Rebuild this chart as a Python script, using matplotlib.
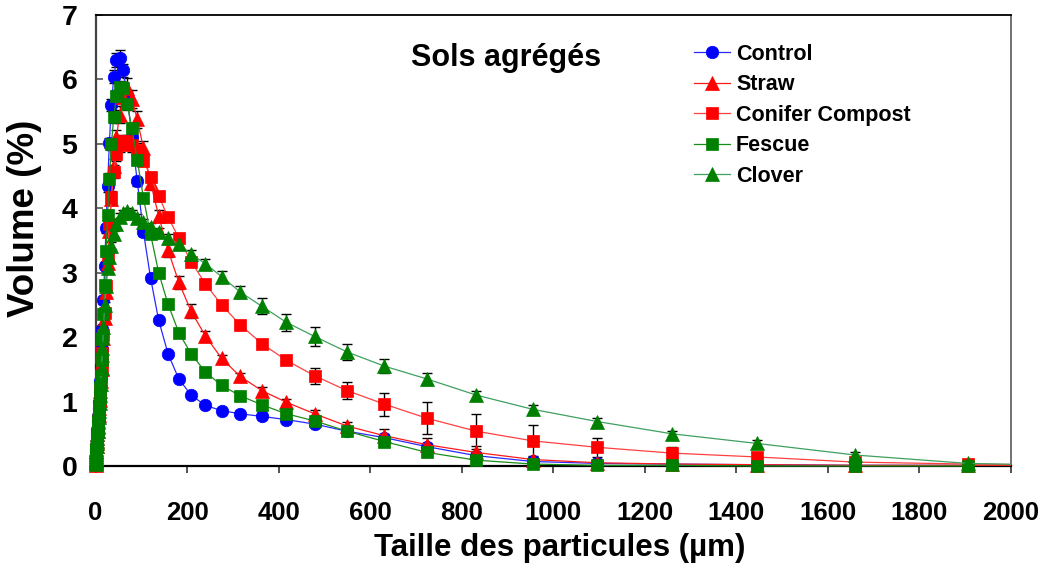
"""
Particle size distribution of aggregated soils (Sols agrégés) by treatment
"""

import matplotlib
matplotlib.use('Agg')
import matplotlib.pyplot as plt
import numpy as np


# Laser diffraction size classes (µm)
sizes = [0.479, 0.550, 0.631, 0.724, 0.832, 0.955, 1.096, 1.259, 1.445, 1.660,
         1.905, 2.188, 2.512, 2.884, 3.311, 3.802, 4.365, 5.012, 5.754, 6.607,
         7.586, 8.710, 10.00, 11.48, 13.18, 15.14, 17.38, 19.95, 22.91, 26.30,
         30.20, 34.67, 39.81, 45.71, 52.48, 60.26, 69.18, 79.43, 91.20, 104.7,
         120.2, 138.0, 158.5, 182.0, 208.9, 239.9, 275.4, 316.2, 363.1, 416.9,
         478.6, 549.5, 631.0, 724.4, 831.8, 955.0, 1096, 1259, 1445, 1660,
         1905, 2188]

control = [0.03, 0.05, 0.08, 0.10, 0.13, 0.16, 0.19, 0.22, 0.25, 0.28,
           0.32, 0.36, 0.40, 0.45, 0.50, 0.56, 0.62, 0.70, 0.78, 0.88,
           1.00, 1.15, 1.32, 1.55, 1.81, 2.12, 2.57, 3.11, 3.69, 4.34,
           5.01, 5.60, 6.04, 6.30, 6.33, 6.14, 5.75, 5.10, 4.42, 3.63,
           2.92, 2.26, 1.74, 1.35, 1.10, 0.94, 0.86, 0.81, 0.77, 0.72,
           0.65, 0.54, 0.44, 0.30, 0.16, 0.07, 0.04, 0.03, 0.02, 0.01,
           0.01, 0.00]
control_err = [0.01, 0.01, 0.01, 0.01, 0.01, 0.01, 0.01, 0.01, 0.01, 0.01,
               0.01, 0.01, 0.02, 0.02, 0.02, 0.02, 0.02, 0.02, 0.03, 0.03,
               0.03, 0.03, 0.04, 0.04, 0.05, 0.05, 0.06, 0.06, 0.07, 0.08,
               0.08, 0.09, 0.10, 0.11, 0.12, 0.10, 0.09, 0.08, 0.07, 0.06,
               0.05, 0.04, 0.03, 0.03, 0.03, 0.03, 0.03, 0.03, 0.03, 0.03,
               0.04, 0.05, 0.05, 0.05, 0.05, 0.03, 0.02, 0.01, 0.01, 0.01,
               0.01, 0.00]

straw = [0.02, 0.04, 0.06, 0.08, 0.10, 0.13, 0.15, 0.18, 0.21, 0.24,
         0.27, 0.31, 0.35, 0.39, 0.44, 0.49, 0.55, 0.62, 0.70, 0.79,
         0.90, 1.02, 1.16, 1.32, 1.50, 1.72, 1.98, 2.30, 2.70, 3.15,
         3.65, 4.15, 4.65, 5.10, 5.45, 5.72, 5.87, 5.70, 5.38, 4.93,
         4.40, 3.88, 3.35, 2.85, 2.40, 2.02, 1.67, 1.39, 1.17, 0.99,
         0.81, 0.62, 0.47, 0.33, 0.21, 0.10, 0.05, 0.03, 0.02, 0.01,
         0.01, 0.00]
straw_err = [0.01, 0.01, 0.01, 0.01, 0.01, 0.01, 0.01, 0.01, 0.01, 0.01,
             0.01, 0.01, 0.02, 0.02, 0.02, 0.02, 0.02, 0.02, 0.03, 0.03,
             0.03, 0.03, 0.04, 0.04, 0.05, 0.05, 0.06, 0.06, 0.07, 0.08,
             0.09, 0.10, 0.11, 0.12, 0.13, 0.14, 0.15, 0.14, 0.13, 0.12,
             0.11, 0.10, 0.10, 0.10, 0.11, 0.08, 0.06, 0.05, 0.05, 0.05,
             0.06, 0.07, 0.10, 0.10, 0.10, 0.06, 0.04, 0.02, 0.01, 0.01,
             0.01, 0.00]

compost = [0.02, 0.04, 0.06, 0.08, 0.10, 0.12, 0.14, 0.17, 0.20, 0.23,
           0.26, 0.30, 0.34, 0.38, 0.43, 0.48, 0.54, 0.61, 0.69, 0.78,
           0.89, 1.01, 1.15, 1.32, 1.52, 1.76, 2.04, 2.38, 2.80, 3.28,
           3.75, 4.18, 4.57, 4.84, 4.98, 5.04, 5.04, 4.98, 4.91, 4.74,
           4.49, 4.19, 3.86, 3.54, 3.17, 2.83, 2.50, 2.19, 1.90, 1.64,
           1.40, 1.17, 0.96, 0.74, 0.54, 0.39, 0.29, 0.20, 0.14, 0.06,
           0.03, 0.01]
compost_err = [0.01, 0.01, 0.01, 0.01, 0.01, 0.01, 0.01, 0.01, 0.01, 0.01,
               0.01, 0.01, 0.02, 0.02, 0.02, 0.02, 0.02, 0.02, 0.03, 0.03,
               0.03, 0.03, 0.04, 0.04, 0.05, 0.05, 0.06, 0.06, 0.07, 0.08,
               0.08, 0.09, 0.10, 0.10, 0.10, 0.10, 0.10, 0.10, 0.10, 0.09,
               0.08, 0.07, 0.06, 0.06, 0.05, 0.05, 0.05, 0.05, 0.05, 0.06,
               0.12, 0.13, 0.18, 0.25, 0.27, 0.25, 0.15, 0.10, 0.06, 0.03,
               0.02, 0.00]

fescue = [0.03, 0.05, 0.07, 0.09, 0.11, 0.13, 0.15, 0.18, 0.21, 0.24,
          0.27, 0.31, 0.35, 0.39, 0.44, 0.49, 0.55, 0.62, 0.70, 0.80,
          0.92, 1.06, 1.22, 1.40, 1.65, 1.97, 2.36, 2.81, 3.33, 3.89,
          4.46, 4.99, 5.42, 5.74, 5.88, 5.86, 5.62, 5.24, 4.75, 4.16,
          3.60, 3.00, 2.51, 2.07, 1.74, 1.46, 1.25, 1.09, 0.95, 0.81,
          0.70, 0.54, 0.38, 0.21, 0.09, 0.03, 0.01, 0.01, 0.00, 0.00,
          0.00, 0.00]
fescue_err = [0.01, 0.01, 0.01, 0.01, 0.01, 0.01, 0.01, 0.01, 0.01, 0.01,
              0.01, 0.01, 0.02, 0.02, 0.02, 0.02, 0.02, 0.02, 0.03, 0.03,
              0.03, 0.03, 0.04, 0.04, 0.05, 0.05, 0.06, 0.06, 0.07, 0.08,
              0.08, 0.09, 0.10, 0.10, 0.10, 0.10, 0.09, 0.08, 0.07, 0.06,
              0.05, 0.04, 0.04, 0.04, 0.04, 0.04, 0.04, 0.04, 0.04, 0.04,
              0.04, 0.04, 0.04, 0.03, 0.03, 0.02, 0.01, 0.01, 0.00, 0.00,
              0.00, 0.00]

clover = [0.03, 0.05, 0.07, 0.09, 0.11, 0.13, 0.15, 0.18, 0.21, 0.24,
          0.27, 0.31, 0.35, 0.39, 0.44, 0.49, 0.55, 0.61, 0.68, 0.76,
          0.86, 0.97, 1.10, 1.28, 1.52, 1.83, 2.15, 2.50, 2.80, 3.08,
          3.25, 3.42, 3.60, 3.76, 3.86, 3.92, 3.95, 3.92, 3.85, 3.78,
          3.71, 3.63, 3.54, 3.44, 3.29, 3.14, 2.94, 2.70, 2.48, 2.23,
          2.01, 1.77, 1.55, 1.35, 1.10, 0.88, 0.69, 0.50, 0.35, 0.17,
          0.04, 0.00]
clover_err = [0.01, 0.01, 0.01, 0.01, 0.01, 0.01, 0.01, 0.01, 0.01, 0.01,
              0.01, 0.01, 0.02, 0.02, 0.02, 0.02, 0.02, 0.02, 0.03, 0.03,
              0.03, 0.03, 0.04, 0.04, 0.05, 0.05, 0.05, 0.05, 0.05, 0.05,
              0.05, 0.05, 0.05, 0.06, 0.06, 0.06, 0.06, 0.06, 0.06, 0.06,
              0.06, 0.06, 0.06, 0.06, 0.07, 0.08, 0.08, 0.09, 0.12, 0.13,
              0.14, 0.13, 0.11, 0.09, 0.07, 0.06, 0.06, 0.05, 0.05, 0.04,
              0.03, 0.00]

labels = ["Control", "Straw", "Conifer Compost", "Fescue", "Clover"]
series = [control, straw, compost, fescue, clover]
errors = [control_err, straw_err, compost_err, fescue_err, clover_err]
markers = ["o", "^", "s", "s", "^"]
marker_colors = ["#0000FF", "#FF0000", "#FF0000", "#008000", "#008000"]
line_colors = ["#2A2AFF", "#FF1A1A", "#FF4040", "#1A8C1A", "#3FA060"]
marker_sizes = [9, 9.5, 8.5, 8.5, 9.5]

plt.rcParams['font.family'] = ['Liberation Sans', 'DejaVu Sans']
plt.rcParams['font.weight'] = 'bold'

fig = plt.figure(figsize=(10.44, 5.68), dpi=100)
ax = fig.add_axes([0.0915, 0.1796, 0.8769, 0.794])

x = np.array(sizes)
for i, (y, err) in enumerate(zip(series, errors)):
    y = np.array(y)
    err = np.array(err)
    inside = x <= 2000
    ax.errorbar(x[inside], y[inside], yerr=err[inside], fmt="none",
                ecolor="black", elinewidth=1.0, capsize=3.5, capthick=1.0,
                zorder=2 + i * 0.1, clip_on=False)
    # tail segment past the axis limit, clipped
    ax.plot(x[-2:], y[-2:], color=line_colors[i], lw=0.9, zorder=3 + i * 0.1)
    ax.plot(x[inside], y[inside], color=line_colors[i], lw=0.9,
            marker=markers[i], markersize=marker_sizes[i],
            markerfacecolor=marker_colors[i], markeredgecolor=marker_colors[i],
            markeredgewidth=0.5, label=labels[i], clip_on=False,
            zorder=3 + i * 0.1)

ax.set_xlim(0, 2000)
ax.set_ylim(0, 7)
ax.set_xticks(np.arange(0, 2001, 200))
ax.set_yticks(np.arange(0, 8, 1))

ax.tick_params(axis="x", direction="out", length=5, width=1.2, color="#333333",
               labelsize=18.5, pad=20)
ax.tick_params(axis="y", direction="in", length=5, width=1.2, color="#555555",
               labelsize=20.5, pad=13)
for lab in ax.get_xticklabels() + ax.get_yticklabels():
    lab.set_fontweight("bold")

for side, col, w in [("bottom", "black", 1.6), ("top", "black", 1.3),
                     ("left", "#444444", 1.6), ("right", "#666666", 1.3)]:
    ax.spines[side].set_color(col)
    ax.spines[side].set_linewidth(w)

ax.set_xlabel("Taille des particules (µm)", fontsize=22.5, fontweight="bold")
ax.xaxis.set_label_coords(0.507, -0.148)
ax.set_ylabel("Volume (%)", fontsize=26.5, fontweight="bold")
ax.yaxis.set_label_coords(-0.058, 0.55)

ax.text(0.448, 0.905, "Sols agrégés", transform=ax.transAxes, ha="center",
        va="center", fontsize=22, fontweight="bold")

leg = ax.legend(loc="upper left", bbox_to_anchor=(694 / 1044, 1 - 44 / 568),
                bbox_transform=fig.transFigure, frameon=False,
                handlelength=1.65, handletextpad=0.3, labelspacing=0.44,
                borderpad=0, borderaxespad=0, prop={"weight": "bold", "size": 15.5})

fig.savefig("out.png", dpi=100)
